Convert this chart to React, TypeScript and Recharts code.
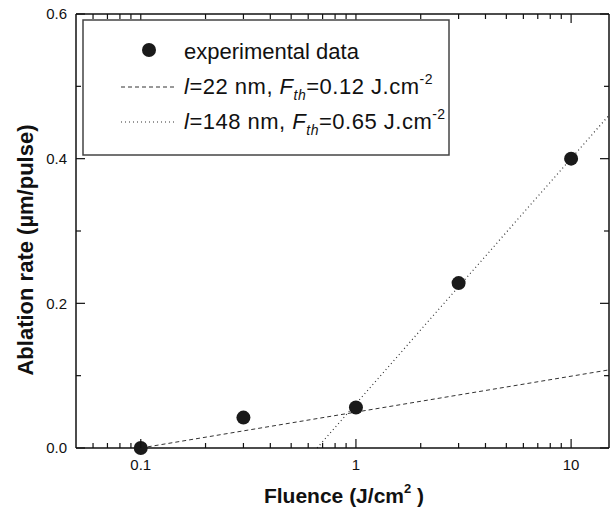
import React from "react";
import { ComposedChart, XAxis, YAxis, Line, Scatter } from "recharts";

// measured ablation rate (µm/pulse) vs fluence (J/cm²)
const fluence = [0.1, 0.3, 1, 3, 10];
const ablationRate = [0, 0.042, 0.056, 0.228, 0.4];

// fitted log lines, end points
const fit22Fluence = [0.1, 15];
const fit22Rate = [0, 0.108];
const fit148Fluence = [0.66, 15];
const fit148Rate = [0, 0.46];

const xTicks = [
  0.06, 0.07, 0.08, 0.09, 0.1, 0.2, 0.3, 0.4, 0.5, 0.6, 0.7, 0.8, 0.9, 1, 2, 3,
  4, 5, 6, 7, 8, 9, 10,
];
const xLabelled = [0.1, 1, 10];
const yTicks = [0, 0.1, 0.2, 0.3, 0.4, 0.5, 0.6];
const yLabelled = [0, 0.2, 0.4, 0.6];

const points = fluence.map((x, i) => ({ x, y: ablationRate[i] }));
const fit22 = fit22Fluence.map((x, i) => ({ x, y: fit22Rate[i] }));
const fit148 = fit148Fluence.map((x, i) => ({ x, y: fit148Rate[i] }));

const FONT = '"Liberation Sans", Arial, sans-serif';
const INK = "#111";

const BottomTick = (props: any) => {
  const { x, y, payload } = props;
  const major = xLabelled.includes(payload.value);
  return (
    <g>
      <path d={`M${x},${y}V${y - (major ? 9 : 5)}`} stroke={INK} strokeWidth={1.2} fill="none" />
      {major && (
        <text x={x} y={y + 22} textAnchor="middle" fontSize={15} fill={INK} stroke="none" fontFamily={FONT}>
          {payload.value}
        </text>
      )}
    </g>
  );
};

const TopTick = (props: any) => {
  const { x, y, payload } = props;
  const major = xLabelled.includes(payload.value);
  return <path d={`M${x},${y}V${y + (major ? 9 : 5)}`} stroke={INK} strokeWidth={1.2} fill="none" />;
};

const LeftTick = (props: any) => {
  const { x, y, payload } = props;
  const major = yLabelled.includes(payload.value);
  return (
    <g>
      <path d={`M${x},${y}H${x + (major ? 9 : 5)}`} stroke={INK} strokeWidth={1.2} fill="none" />
      {major && (
        <text x={x - 9} y={y} dy="0.35em" textAnchor="end" fontSize={15} fill={INK} stroke="none" fontFamily={FONT}>
          {payload.value.toFixed(1)}
        </text>
      )}
    </g>
  );
};

const RightTick = (props: any) => {
  const { x, y, payload } = props;
  const major = yLabelled.includes(payload.value);
  return <path d={`M${x},${y}H${x - (major ? 9 : 5)}`} stroke={INK} strokeWidth={1.2} fill="none" />;
};

const axisLine = { stroke: INK, strokeWidth: 1.5 };

export default function App() {
  return (
    <div style={{ position: "absolute", left: 0, top: 0, width: 610, height: 513, background: "#fff" }}>
      <ComposedChart width={610} height={513} margin={{ top: 0, right: 0, bottom: 0, left: 0 }}>
        <XAxis
          dataKey="x"
          type="number"
          scale="log"
          domain={[0.05, 15]}
          ticks={xTicks}
          interval={0}
          tickSize={0}
          tickMargin={0}
          tickLine={false}
          axisLine={axisLine}
          tick={<BottomTick />}
          height={65}
        />
        <XAxis
          xAxisId="top"
          orientation="top"
          dataKey="x"
          type="number"
          scale="log"
          domain={[0.05, 15]}
          allowDataOverflow
          ticks={xTicks}
          interval={0}
          tickSize={0}
          tickMargin={0}
          tickLine={false}
          axisLine={axisLine}
          tick={<TopTick />}
          height={14}
        />
        <YAxis
          type="number"
          domain={[0, 0.6]}
          ticks={yTicks}
          interval={0}
          tickSize={0}
          tickMargin={0}
          tickLine={false}
          axisLine={axisLine}
          tick={<LeftTick />}
          width={76}
        />
        <YAxis
          yAxisId="right"
          orientation="right"
          type="number"
          domain={[0, 0.6]}
          allowDataOverflow
          ticks={yTicks}
          interval={0}
          tickSize={0}
          tickMargin={0}
          tickLine={false}
          axisLine={axisLine}
          tick={<RightTick />}
          width={1}
        />
        <Line
          data={fit22}
          dataKey="y"
          type="linear"
          stroke="#333"
          strokeWidth={1}
          strokeDasharray="4 3"
          dot={false}
          activeDot={false}
          isAnimationActive={false}
        />
        <Line
          data={fit148}
          dataKey="y"
          type="linear"
          stroke="#333"
          strokeWidth={1.2}
          strokeDasharray="1 3"
          dot={false}
          activeDot={false}
          isAnimationActive={false}
        />
        <Scatter
          data={points}
          dataKey="y"
          isAnimationActive={false}
          shape={(p: any) => <circle cx={p.cx} cy={p.cy} r={7} fill="#1a1a1a" />}
        />
      </ComposedChart>

      {/* legend box and axis titles */}
      <svg
        width={610}
        height={513}
        style={{ position: "absolute", left: 0, top: 0, pointerEvents: "none" }}
        fontFamily={FONT}
        fill={INK}
      >
        <rect x={83} y={20} width={366} height={135} fill="#fff" stroke="#444" strokeWidth={1.5} />
        <circle cx={149} cy={50} r={7} fill="#1a1a1a" />
        <text x={184} y={59} fontSize={22}>experimental data</text>
        <line x1={121} y1={87} x2={175} y2={87} stroke="#333" strokeWidth={1} strokeDasharray="4 3" />
        <text x={184} y={94} fontSize={22} letterSpacing={0.5}>
          <tspan fontStyle="italic">l</tspan>=22 nm, <tspan fontStyle="italic">F</tspan>
          <tspan fontSize={14} fontStyle="italic" dy={6}>th</tspan>
          <tspan dy={-6}>=0.12 J.cm</tspan>
          <tspan fontSize={14} dy={-10}>-2</tspan>
        </text>
        <line x1={121} y1={122} x2={175} y2={122} stroke="#333" strokeWidth={1.2} strokeDasharray="1 3" />
        <text x={184} y={129} fontSize={22} letterSpacing={0.5}>
          <tspan fontStyle="italic">l</tspan>=148 nm, <tspan fontStyle="italic">F</tspan>
          <tspan fontSize={14} fontStyle="italic" dy={6}>th</tspan>
          <tspan dy={-6}>=0.65 J.cm</tspan>
          <tspan fontSize={14} dy={-10}>-2</tspan>
        </text>

        <text x={344} y={503} fontSize={21} fontWeight="bold" textAnchor="middle">
          Fluence (J/cm<tspan fontSize={13} dy={-10}>2</tspan>
          <tspan dy={10}> )</tspan>
        </text>
        <text transform="translate(33,250) rotate(-90)" fontSize={22} fontWeight="bold" textAnchor="middle">
          Ablation rate (µm/pulse)
        </text>
      </svg>
    </div>
  );
}
